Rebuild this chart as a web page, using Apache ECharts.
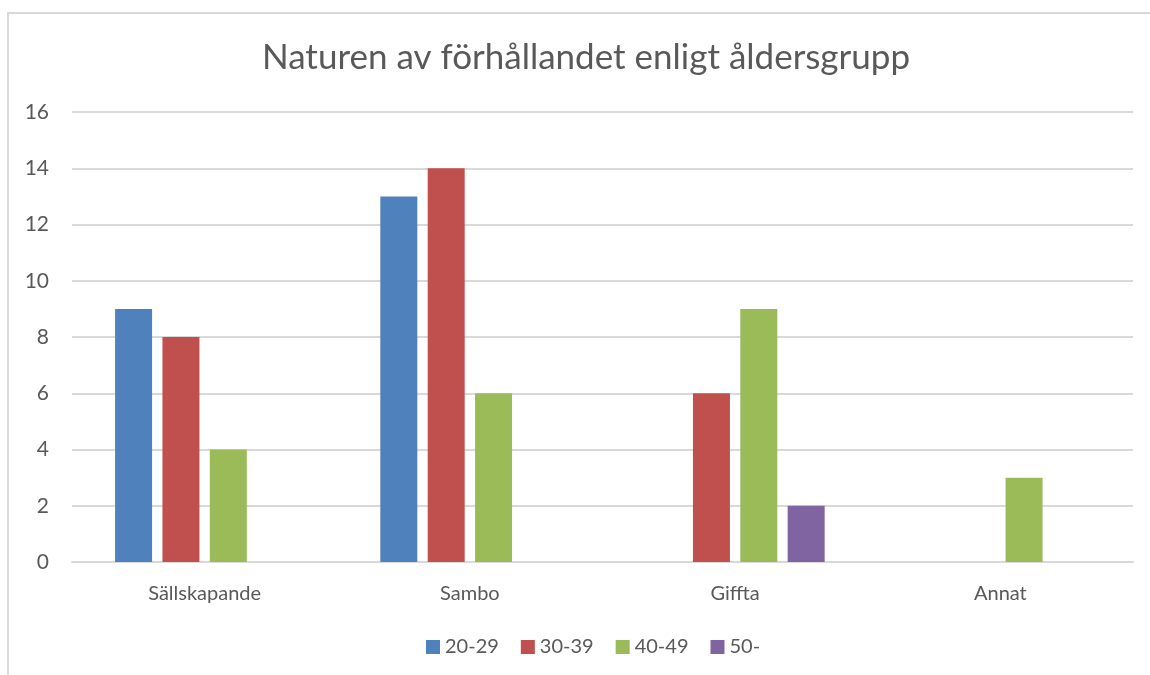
<!DOCTYPE html>
<html>
<head>
<meta charset="utf-8">
<script src="https://cdn.jsdelivr.net/npm/echarts@6/dist/echarts.min.js"></script>
<style>
  body { margin: 0; background: #fff; }
  #myChart { position: absolute; left: 0; top: 0; width: 1150px; height: 675px; }
  .frame { position: absolute; left: 7px; top: 12px; width: 1160px; height: 680px;
           border-left: 2px solid #d9d9d9; border-top: 2px solid #d9d9d9; pointer-events: none; }
</style>
</head>
<body>
<div id="myChart"></div>
<div class="frame"></div>
<script>
// kategorier (x-axel)
var categories = ['Sällskapande', 'Sambo', 'Giffta', 'Annat'];
// åldersgrupper
var groups = ['20-29', '30-39', '40-49', '50-'];
var v2029 = [9, 13, 0, 0];
var v3039 = [8, 14, 6, 0];
var v4049 = [4, 6, 9, 3];
var v50 = [0, 0, 2, 0];
var colors = ['#4f81bd', '#c0504d', '#9bbb59', '#8064a2'];

var font = 'Lato, "Open Sans", sans-serif';
var myChart = echarts.init(document.getElementById('myChart'));

var values = [v2029, v3039, v4049, v50];
var series = groups.map(function (g, i) {
  return {
    name: g,
    type: 'bar',
    data: values[i],
    barWidth: 37,
    barGap: '28%',
    itemStyle: { color: colors[i] }
  };
});

myChart.setOption({
  animation: false,
  title: {
    text: 'Naturen av förhållandet enligt åldersgrupp',
    left: 257,
    top: 35,
    textStyle: { fontFamily: font, fontSize: 35, fontWeight: 'normal', color: '#595959' }
  },
  legend: {
    data: groups,
    bottom: 13,
    left: 421,
    icon: 'rect',
    itemWidth: 14,
    itemHeight: 14,
    itemGap: 22,
    textStyle: { fontFamily: font, fontSize: 20, color: '#595959' }
  },
  grid: { left: 72, right: 17, top: 112, bottom: 113 },
  xAxis: {
    type: 'category',
    data: categories,
    axisTick: { show: false },
    axisLine: { lineStyle: { color: '#d9d9d9', width: 2 } },
    axisLabel: { margin: 22, fontFamily: font, fontSize: 20, color: '#595959' }
  },
  yAxis: {
    type: 'value',
    min: 0,
    max: 16,
    interval: 2,
    axisLine: { show: false },
    axisTick: { show: false },
    splitLine: { lineStyle: { color: '#d9d9d9', width: 2 } },
    axisLabel: { margin: 23, fontFamily: font, fontSize: 21, color: '#595959' }
  },
  series: series
});
</script>
</body>
</html>
